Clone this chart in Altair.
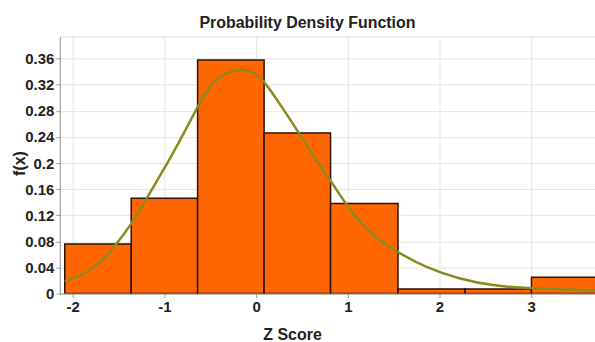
import altair as alt
import pandas as pd

# Histogram bins (Z score) and densities
bin_left = [-2.087, -1.362, -0.638, 0.087, 0.812, 1.547, 2.279, 3.003]
bin_right = [-1.362, -0.638, 0.087, 0.812, 1.547, 2.279, 3.003, 3.73]
density = [0.076, 0.146, 0.358, 0.246, 0.138, 0.007, 0.007, 0.025]

# Fitted density curve
curve_z = [-2.087, -1.924, -1.742, -1.525, -1.362, -1.199, -1.073, -0.98, -0.855,
           -0.728, -0.638, -0.475, -0.203, -0.003, 0.105, 0.323, 0.467, 0.675,
           0.823, 0.993, 1.228, 1.518, 1.862, 2.225, 2.587, 2.95, 3.696]
curve_f = [0.019, 0.026, 0.041, 0.075, 0.106, 0.144, 0.175, 0.197, 0.228,
           0.262, 0.286, 0.328, 0.347, 0.338, 0.323, 0.277, 0.246, 0.200,
           0.171, 0.134, 0.093, 0.065, 0.039, 0.022, 0.012, 0.008, 0.005]

x_ticks = [-2, -1, 0, 1, 2, 3]
y_ticks = [0, 0.04, 0.08, 0.12, 0.16, 0.2, 0.24, 0.28, 0.32, 0.36]

bars_df = pd.DataFrame({"left": bin_left, "right": bin_right, "f": density})
curve_df = pd.DataFrame({"z": curve_z, "f": curve_f})

FONT = "Liberation Sans"
xscale = alt.Scale(domain=[-2.141, 3.696], nice=False, zero=False)
yscale = alt.Scale(domain=[0, 0.394], nice=False)

xaxis = alt.Axis(values=x_ticks, labelExpr="'' + datum.value", title="Z Score",
                 labelFont=FONT, labelFontSize=15, labelFontWeight="bold", labelColor="#222",
                 labelOverlap=False, tickCount=6,
                 titleFont=FONT, titleFontSize=16, titleFontWeight="bold", titleColor="#222",
                 titleX=233, titleY=41, titleAlign="center", titleBaseline="middle",
                 grid=True, gridColor="#e4e4e4", tickSize=4, tickColor="#999",
                 domainColor="#999", labelPadding=2)
yaxis = alt.Axis(values=y_ticks, labelExpr="'' + datum.value", title="f(x)",
                 labelFont=FONT, labelFontSize=15, labelFontWeight="bold", labelColor="#222",
                 labelOverlap=False, tickCount=10,
                 titleFont=FONT, titleFontSize=16, titleFontWeight="bold", titleColor="#222",
                 titleX=-40, titleY=127, titleAngle=270, titleAlign="center", titleBaseline="middle",
                 grid=True, gridColor="#e4e4e4", tickSize=4, tickColor="#999",
                 domainColor="#999", labelPadding=2)

bars = alt.Chart(bars_df).mark_rect(fill="#FF6600", stroke="#2a1205", strokeWidth=1.5, clip=True).encode(
    x=alt.X("left:Q", scale=xscale, axis=xaxis),
    x2="right:Q",
    y=alt.Y("f:Q", scale=yscale, axis=yaxis),
    y2=alt.datum(0),
)

curve = alt.Chart(curve_df).mark_line(color="#8c8a1c", strokeWidth=2.5, interpolate="basis", clip=True).encode(
    x=alt.X("z:Q", scale=xscale, axis=xaxis),
    y=alt.Y("f:Q", scale=yscale, axis=yaxis),
)

chart = alt.layer(bars, curve).properties(
    width=537, height=258,
    title=alt.TitleParams("Probability Density Function", font=FONT, fontSize=16, fontWeight="bold",
                          color="#222", anchor="middle", dx=-20, dy=17, offset=9, baseline="alphabetic"),
    padding={"left": 60, "top": 36, "right": 0, "bottom": 48},
    autosize=alt.AutoSizeParams(type="none"),
).configure_view(stroke="#777", strokeWidth=1).configure(background="white")

chart.save("out.html", embed_options={"renderer": "svg", "actions": False})
